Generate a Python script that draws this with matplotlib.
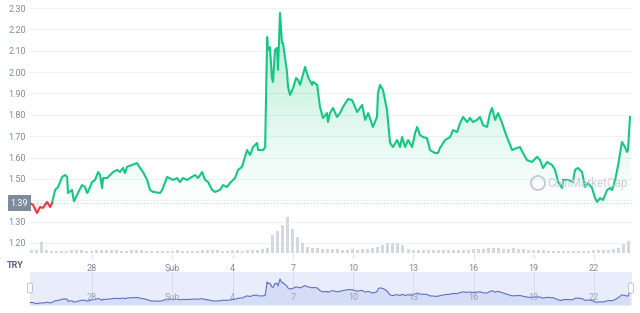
import numpy as np
import matplotlib
matplotlib.use("Agg")
import matplotlib.pyplot as plt
from matplotlib.path import Path
from matplotlib.patches import FancyBboxPatch, Ellipse

plt.rcParams['font.family'] = ['Roboto', 'DejaVu Sans']

# ---- data: x = day counted from 1 January (32 = 1 Şubat) ----
days = [24.91, 25.06, 25.26, 25.41, 25.56, 25.76, 25.91, 26.01, 26.16, 26.31,
        26.51, 26.66, 26.76, 26.80, 27.00, 27.10, 27.30, 27.50, 27.65, 27.75,
        27.80, 28.00, 28.15, 28.30, 28.40, 28.50, 28.55, 28.75, 28.90, 29.05,
        29.25, 29.39, 29.54, 29.64, 29.74, 29.99, 30.24, 30.39, 30.54, 30.74,
        30.89, 31.04, 31.39, 31.49, 31.74, 32.03, 32.23, 32.38, 32.53, 32.73,
        32.98, 33.13, 33.28, 33.48, 33.63, 33.78, 33.98, 34.13, 34.37, 34.52,
        34.72, 34.87, 35.12, 35.27, 35.47, 35.62, 35.72, 35.87, 36.02, 36.22,
        36.27, 36.52, 36.62, 36.72, 36.76, 36.86, 36.96, 37.01, 37.11, 37.21,
        37.26, 37.36, 37.46, 37.51, 37.71, 37.76, 37.86, 38.01, 38.16, 38.26,
        38.36, 38.61, 38.76, 38.96, 39.01, 39.21, 39.35, 39.50, 39.70, 39.75,
        39.85, 40.00, 40.20, 40.35, 40.50, 40.75, 40.95, 41.20, 41.45, 41.60,
        41.75, 41.99, 42.19, 42.24, 42.34, 42.49, 42.69, 42.84, 42.99, 43.19,
        43.34, 43.44, 43.59, 43.74, 43.94, 44.09, 44.19, 44.33, 44.48, 44.68,
        44.83, 45.08, 45.23, 45.33, 45.58, 45.83, 45.98, 46.18, 46.33, 46.48,
        46.68, 46.82, 46.97, 47.17, 47.32, 47.47, 47.67, 47.82, 47.92, 48.07,
        48.22, 48.42, 48.57, 48.72, 48.92, 49.17, 49.31, 49.46, 49.66, 49.91,
        50.16, 50.31, 50.46, 50.66, 50.91, 51.06, 51.21, 51.41, 51.46, 51.71,
        51.95, 52.05, 52.20, 52.40, 52.55, 52.70, 52.90, 53.05, 53.15, 53.30,
        53.45, 53.65, 53.80, 53.90, 54.05, 54.20, 54.39, 54.54, 54.64, 54.69,
        54.79]
price = [1.387, 1.378, 1.340, 1.368, 1.364, 1.392, 1.368, 1.387, 1.448, 1.462,
         1.509, 1.518, 1.509, 1.434, 1.448, 1.395, 1.434, 1.471, 1.462, 1.434,
         1.439, 1.485, 1.495, 1.532, 1.518, 1.457, 1.504, 1.504, 1.518, 1.532,
         1.542, 1.532, 1.551, 1.527, 1.556, 1.565, 1.574, 1.551, 1.532, 1.495,
         1.448, 1.439, 1.434, 1.448, 1.509, 1.495, 1.504, 1.485, 1.504, 1.495,
         1.509, 1.518, 1.504, 1.532, 1.495, 1.485, 1.448, 1.439, 1.448, 1.471,
         1.462, 1.481, 1.504, 1.542, 1.556, 1.603, 1.635, 1.612, 1.649, 1.668,
         1.635, 1.635, 1.649, 2.164, 2.103, 2.117, 1.972, 1.954, 2.103, 2.113,
         2.010, 2.277, 2.136, 2.136, 2.000, 1.930, 1.893, 1.925, 1.972, 1.963,
         1.940, 2.024, 1.977, 1.940, 1.954, 1.940, 1.837, 1.785, 1.808, 1.766,
         1.808, 1.832, 1.790, 1.808, 1.837, 1.874, 1.869, 1.813, 1.846, 1.776,
         1.808, 1.743, 1.790, 1.902, 1.940, 1.916, 1.822, 1.668, 1.649, 1.682,
         1.649, 1.696, 1.649, 1.682, 1.649, 1.715, 1.743, 1.705, 1.696, 1.691,
         1.635, 1.621, 1.621, 1.645, 1.682, 1.696, 1.729, 1.719, 1.762, 1.790,
         1.766, 1.785, 1.766, 1.776, 1.790, 1.752, 1.743, 1.808, 1.832, 1.776,
         1.808, 1.762, 1.719, 1.682, 1.635, 1.645, 1.649, 1.621, 1.588, 1.579,
         1.603, 1.588, 1.551, 1.579, 1.565, 1.542, 1.485, 1.457, 1.495, 1.495,
         1.485, 1.542, 1.551, 1.532, 1.462, 1.481, 1.457, 1.410, 1.392, 1.410,
         1.401, 1.448, 1.457, 1.448, 1.495, 1.565, 1.673, 1.649, 1.626, 1.635,
         1.790]

vol_start = 24.91
vol_step = 0.25
volume = [3, 3, 11, 3, 2,
          2, 2, 2, 3, 3, 3, 2, 2, 3, 3,
          3, 3, 3, 2, 2, 3, 3, 3, 2, 2,
          2, 2, 2, 2, 3, 2, 2, 2, 2, 3,
          3, 3, 3, 2, 2, 3, 3, 2, 3, 3, 3, 4,
          5, 18, 22, 28, 36, 24, 16, 10, 6, 5, 5,
          4, 4, 4, 4, 3, 3, 4, 3, 4, 4, 5, 6,
          8, 10, 10, 10, 8, 4,
          3, 3, 3, 3, 3, 3, 3, 3, 3, 3, 3, 3,
          4, 4, 4, 5, 5, 5, 4, 4, 5, 4, 4, 3, 3, 3,
          3, 2, 2, 2, 2, 2, 2, 2, 2, 2, 3, 3, 3, 3,
          4, 5, 9, 12]

tick_days = [28, 32, 35, 38, 41, 44, 47, 50, 53]
tick_labels = ["28", "Şub", "4", "7", "10", "13", "16", "19", "22"]
price_ticks = [1.20, 1.30, 1.50, 1.60, 1.70, 1.80, 1.90, 2.00, 2.10, 2.20, 2.30]
grid_levels = [1.20, 1.30, 1.40, 1.50, 1.60, 1.70, 1.80, 1.90, 2.00, 2.10, 2.20, 2.30]
currency = "TRY"

GREEN = "#16c784"
RED = "#ea3943"
GRAY = "#808a9d"

W, H = 640, 313
fig = plt.figure(figsize=(W / 100, H / 100), dpi=100)

def fig_rect(x0, y0, x1, y1):
    return [x0 / W, 1 - y1 / H, (x1 - x0) / W, (y1 - y0) / H]

xlim = (24.91, 54.89)
base = price[0]

# ---- main price axes ----
ax = fig.add_axes(fig_rect(30, 0, 632, 258))
ax.set_xlim(*xlim)
ax.set_ylim(1.1295, 2.3375)
for s in ax.spines.values():
    s.set_visible(False)
for g in grid_levels:
    ax.axhline(g, color="#eff1f4", lw=0.8, zorder=0)
ax.axhline(base, color="#c9ced8", lw=0.8, ls=(0, (1, 2)), zorder=0.5)

d = np.array(days)
p = np.array(price)
# insert crossing points for colouring
xs, ys = [d[0]], [p[0]]
for i in range(1, len(d)):
    a, b = p[i - 1] - base, p[i] - base
    if a * b < 0:
        t = a / (a - b)
        xs.append(d[i - 1] + t * (d[i] - d[i - 1]))
        ys.append(base)
    xs.append(d[i]); ys.append(p[i])
xs = np.array(xs); ys = np.array(ys)
g_line = np.where(ys >= base - 1e-9, ys, np.nan)
r_line = np.where(ys <= base + 1e-9, ys, np.nan)

# gradient fill (green above base)
poly = ax.fill_between(xs, ys, base, where=ys >= base - 1e-9, color="none", lw=0)
paths = poly.get_paths()
if paths:
    cp = Path.make_compound_path(*paths)
    n = 256
    alpha = np.linspace(0.0, 0.32, n)[:, None]
    rgba = np.zeros((n, 1, 4))
    rgba[..., 0] = 0x16 / 255; rgba[..., 1] = 0xc7 / 255; rgba[..., 2] = 0x84 / 255
    rgba[..., 3] = alpha
    im = ax.imshow(rgba, extent=[xlim[0], xlim[1], base, max(price)], origin="lower",
                   aspect="auto", zorder=1, interpolation="bilinear")
    im.set_clip_path(cp, transform=ax.transData)
ax.fill_between(xs, ys, base, where=ys <= base + 1e-9, color=RED, alpha=0.08, lw=0, zorder=1)

ax.plot(xs, g_line, color=GREEN, lw=1.5, zorder=3, solid_joinstyle="round")
ax.plot(xs, r_line, color=RED, lw=1.5, zorder=3, solid_joinstyle="round")
ax.set_xlim(*xlim)
ax.set_ylim(1.1295, 2.3375)

ax.set_yticks(price_ticks)
ax.set_yticklabels([f"{v:.2f}" for v in price_ticks])
ax.tick_params(axis="y", length=0, pad=3, labelsize=6.5, labelcolor=GRAY)
ax.set_xticks(tick_days)
ax.set_xticklabels(tick_labels)
ax.tick_params(axis="x", length=3, direction="in", width=0.6, color="#cfd6e4",
               pad=4, labelsize=6.5, labelcolor=GRAY)

# start price label
ax.text(-0.003, base, f"{base:.2f}", transform=ax.get_yaxis_transform(), ha="right", va="center",
        fontsize=6.5, color="white", zorder=10, clip_on=False,
        bbox=dict(boxstyle="square,pad=0.35", fc=GRAY, ec="none"))

# watermark
fig.text(547 / W, 1 - 183 / H, "CoinMarketCap", ha="left", va="center",
         fontsize=8.5, color="#c5cad3", alpha=0.9, zorder=2)
fig.patches.append(Ellipse((538 / W, 1 - 183 / H), 14 / W, 14 / H, transform=fig.transFigure,
                           fill=False, ec="#c5cad3", lw=1.5, alpha=0.9))

# ---- volume axes ----
axv = fig.add_axes(fig_rect(30, 0, 632, 258))
axv.patch.set_visible(False)
axv.set_xlim(*xlim)
axv.set_ylim(-5, 253)
vx = vol_start + vol_step * np.arange(len(volume))
axv.bar(vx, volume, width=vol_step * 0.6, color="#d3d8e3", align="edge", zorder=1)
axv.axis("off")

# currency label
fig.text(15 / W, 1 - 265 / H, currency, ha="center", va="center", fontsize=6.5,
         color="#58667e", fontweight="bold")

# ---- navigator ----
axn = fig.add_axes(fig_rect(30, 272, 632, 305))
axn.set_facecolor("#e9edfb")
for s in axn.spines.values():
    s.set_visible(False)
axn.set_xlim(*xlim)
axn.set_ylim(1.288, 2.543)
axn.fill_between(d, p, 1.288, color="#d5dcf6", lw=0)
axn.plot(d, p, color="#5c6fc4", lw=0.8)
for t, lab in zip(tick_days, tick_labels):
    axn.axvline(t, color="#d3d9ef", lw=0.6, zorder=0.5)
    axn.text(t, 0.22, lab, transform=axn.get_xaxis_transform(), ha="center", va="center",
             fontsize=6.5, color="#9aa3b8")
axn.set_xticks([]); axn.set_yticks([])
for hx in (30, 631):
    fig.patches.append(FancyBboxPatch(((hx - 2.5) / W, 1 - 293 / H), 5 / W, 10 / H,
                                      boxstyle="round,pad=0,rounding_size=0.004",
                                      transform=fig.transFigure, fc="white", ec="#b8bfcf", lw=0.6))

fig.savefig("out.png", dpi=100)
